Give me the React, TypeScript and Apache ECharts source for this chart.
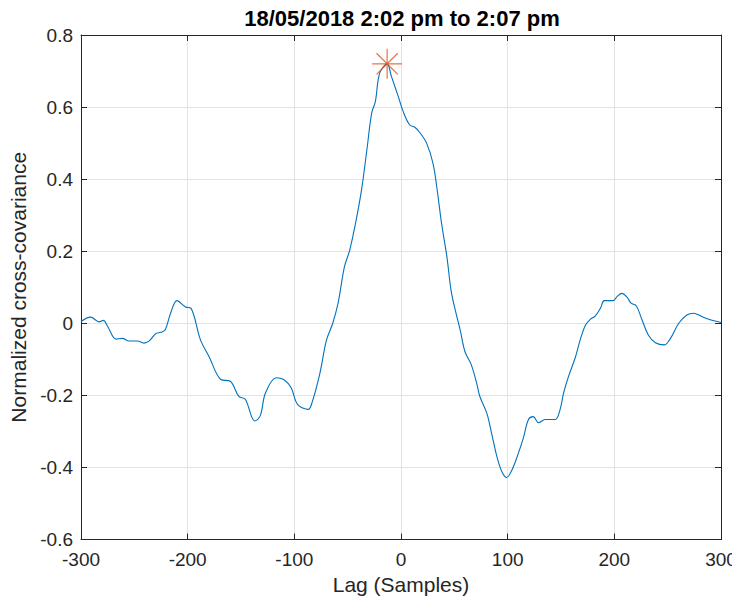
import React, { useEffect, useRef } from "react";
import * as echarts from "echarts";

const titleText = "18/05/2018 2:02 pm to 2:07 pm";
const xName = "Lag (Samples)";
const yName = "Normalized cross-covariance";

const lags = [
  -300, -291, -283, -279, -275, -267, -261, -255, -247, -241, -236, -230, -225, -221, -216, -210,
  -202, -197, -188, -180, -169, -160, -152, -146, -137, -132, -127, -117, -110, -103, -97, -87,
  -83, -76, -70, -64, -59, -53, -48, -42, -37, -32, -27.5, -24, -20, -13, -9, -2.5, 2, 8, 13, 18,
  24, 30, 33.5, 38, 43, 47, 51, 55.5, 60, 66, 71, 74, 80.5, 85, 90, 94.6, 99, 104, 110, 115, 119.5,
  124, 129, 135, 144.6, 149, 152.4, 157, 163.4, 168, 173, 177.5, 182, 187, 190.6, 199, 202.5, 207,
  212, 215.7, 220.7, 226, 232, 238.5, 247, 252.6, 260.4, 268, 274.5, 281, 288.5, 300,
];
const covValues = [
  0.005, 0.017, 0.004, 0.008, -0.009, -0.044, -0.042, -0.049, -0.049, -0.055, -0.049, -0.029, -0.025,
  -0.018, 0.028, 0.063, 0.045, 0.042, -0.046, -0.092, -0.156, -0.161, -0.203, -0.211, -0.271, -0.257,
  -0.193, -0.151, -0.156, -0.179, -0.225, -0.239, -0.216, -0.138, -0.048, 0, 0.056, 0.157, 0.204,
  0.287, 0.37, 0.481, 0.583, 0.616, 0.694, 0.72, 0.685, 0.629, 0.588, 0.551, 0.544, 0.528, 0.5, 0.444,
  0.379, 0.278, 0.185, 0.09, 0.035, -0.019, -0.079, -0.116, -0.167, -0.204, -0.25, -0.306, -0.371,
  -0.412, -0.428, -0.407, -0.361, -0.315, -0.267, -0.259, -0.276, -0.267, -0.267, -0.241, -0.194,
  -0.148, -0.095, -0.046, -0.005, 0.011, 0.02, 0.042, 0.063, 0.063, 0.074, 0.083, 0.072, 0.056, 0.048,
  0.009, -0.033, -0.054, -0.06, -0.042, 0, 0.023, 0.028, 0.02, 0.011, 0.002,
];
const peakLag = -13;
const peakValue = 0.72;

const xMin = -300;
const xMax = 300;
const xStep = 100;
const yMin = -0.6;
const yMax = 0.8;
const yStep = 0.2;

const FONT = "'Liberation Sans', Arial, Helvetica, sans-serif";
const AXIS_COLOR = "#262626";
const GRID_COLOR = "#e3e3e3";

export default function App() {
  const ref = useRef<HTMLDivElement>(null);
  useEffect(() => {
    if (!ref.current) return;
    const chart = echarts.init(ref.current, null, { renderer: "svg" });
    const lineData = lags.map((l, i) => [l, covValues[i]]);
    const tickCommon = {
      show: true,
      inside: true,
      length: 6,
      lineStyle: { color: AXIS_COLOR, width: 1 },
    };
    const fmt = (v: number) => String(Math.round(v * 10) / 10);
    chart.setOption({
      animation: false,
      backgroundColor: "#ffffff",
      grid: { left: 81, right: 19, top: 35, bottom: 65.5, containLabel: false, show: false },
      graphic: [
        {
          type: "text",
          x: 402,
          y: 18,
          style: {
            text: titleText,
            font: `bold 22px ${FONT}`,
            fill: "#000000",
            align: "center",
            verticalAlign: "middle",
          },
        },
      ],
      xAxis: [
        {
          type: "value",
          min: xMin,
          max: xMax,
          interval: xStep,
          position: "bottom",
          name: xName,
          nameLocation: "middle",
          nameGap: 34,
          nameTextStyle: { fontFamily: FONT, fontSize: 21, color: "#262626" },
          axisLine: { show: true, onZero: false, lineStyle: { color: AXIS_COLOR, width: 1 } },
          axisTick: tickCommon,
          axisLabel: { fontFamily: FONT, fontSize: 19, color: "#262626", margin: 10 },
          splitLine: { show: true, lineStyle: { color: GRID_COLOR, width: 1 } },
        },
        {
          type: "value",
          min: xMin,
          max: xMax,
          interval: xStep,
          position: "top",
          axisLine: { show: true, onZero: false, lineStyle: { color: AXIS_COLOR, width: 1 } },
          axisTick: tickCommon,
          axisLabel: { show: false },
          splitLine: { show: false },
        },
      ],
      yAxis: [
        {
          type: "value",
          min: yMin,
          max: yMax,
          interval: yStep,
          position: "left",
          name: yName,
          nameLocation: "middle",
          nameGap: 50,
          nameTextStyle: { fontFamily: FONT, fontSize: 21, color: "#262626" },
          axisLine: { show: true, onZero: false, lineStyle: { color: AXIS_COLOR, width: 1 } },
          axisTick: tickCommon,
          axisLabel: {
            fontFamily: FONT,
            fontSize: 19,
            color: "#262626",
            margin: 8,
            formatter: fmt,
          },
          splitLine: { show: true, lineStyle: { color: GRID_COLOR, width: 1 } },
        },
        {
          type: "value",
          min: yMin,
          max: yMax,
          interval: yStep,
          position: "right",
          axisLine: { show: true, onZero: false, lineStyle: { color: AXIS_COLOR, width: 1 } },
          axisTick: tickCommon,
          axisLabel: { show: false },
          splitLine: { show: false },
        },
      ],
      series: [
        {
          type: "line",
          data: lineData,
          xAxisIndex: 0,
          yAxisIndex: 0,
          smooth: 0.35,
          showSymbol: false,
          symbol: "none",
          lineStyle: { color: "#0072BD", width: 1.1 },
          z: 3,
        },
        {
          type: "scatter",
          data: [[peakLag, peakValue]],
          xAxisIndex: 0,
          yAxisIndex: 0,
          symbol:
            "path://M0,-10L0,10M-10,0L10,0M-7.07,-7.07L7.07,7.07M-7.07,7.07L7.07,-7.07",
          symbolSize: 30,
          itemStyle: { color: "none", borderColor: "#D95319", borderWidth: 1.2 },
          z: 4,
        },
      ],
    });
    return () => chart.dispose();
  }, []);
  return <div ref={ref} style={{ width: 740, height: 605, margin: -8 }} />;
}
